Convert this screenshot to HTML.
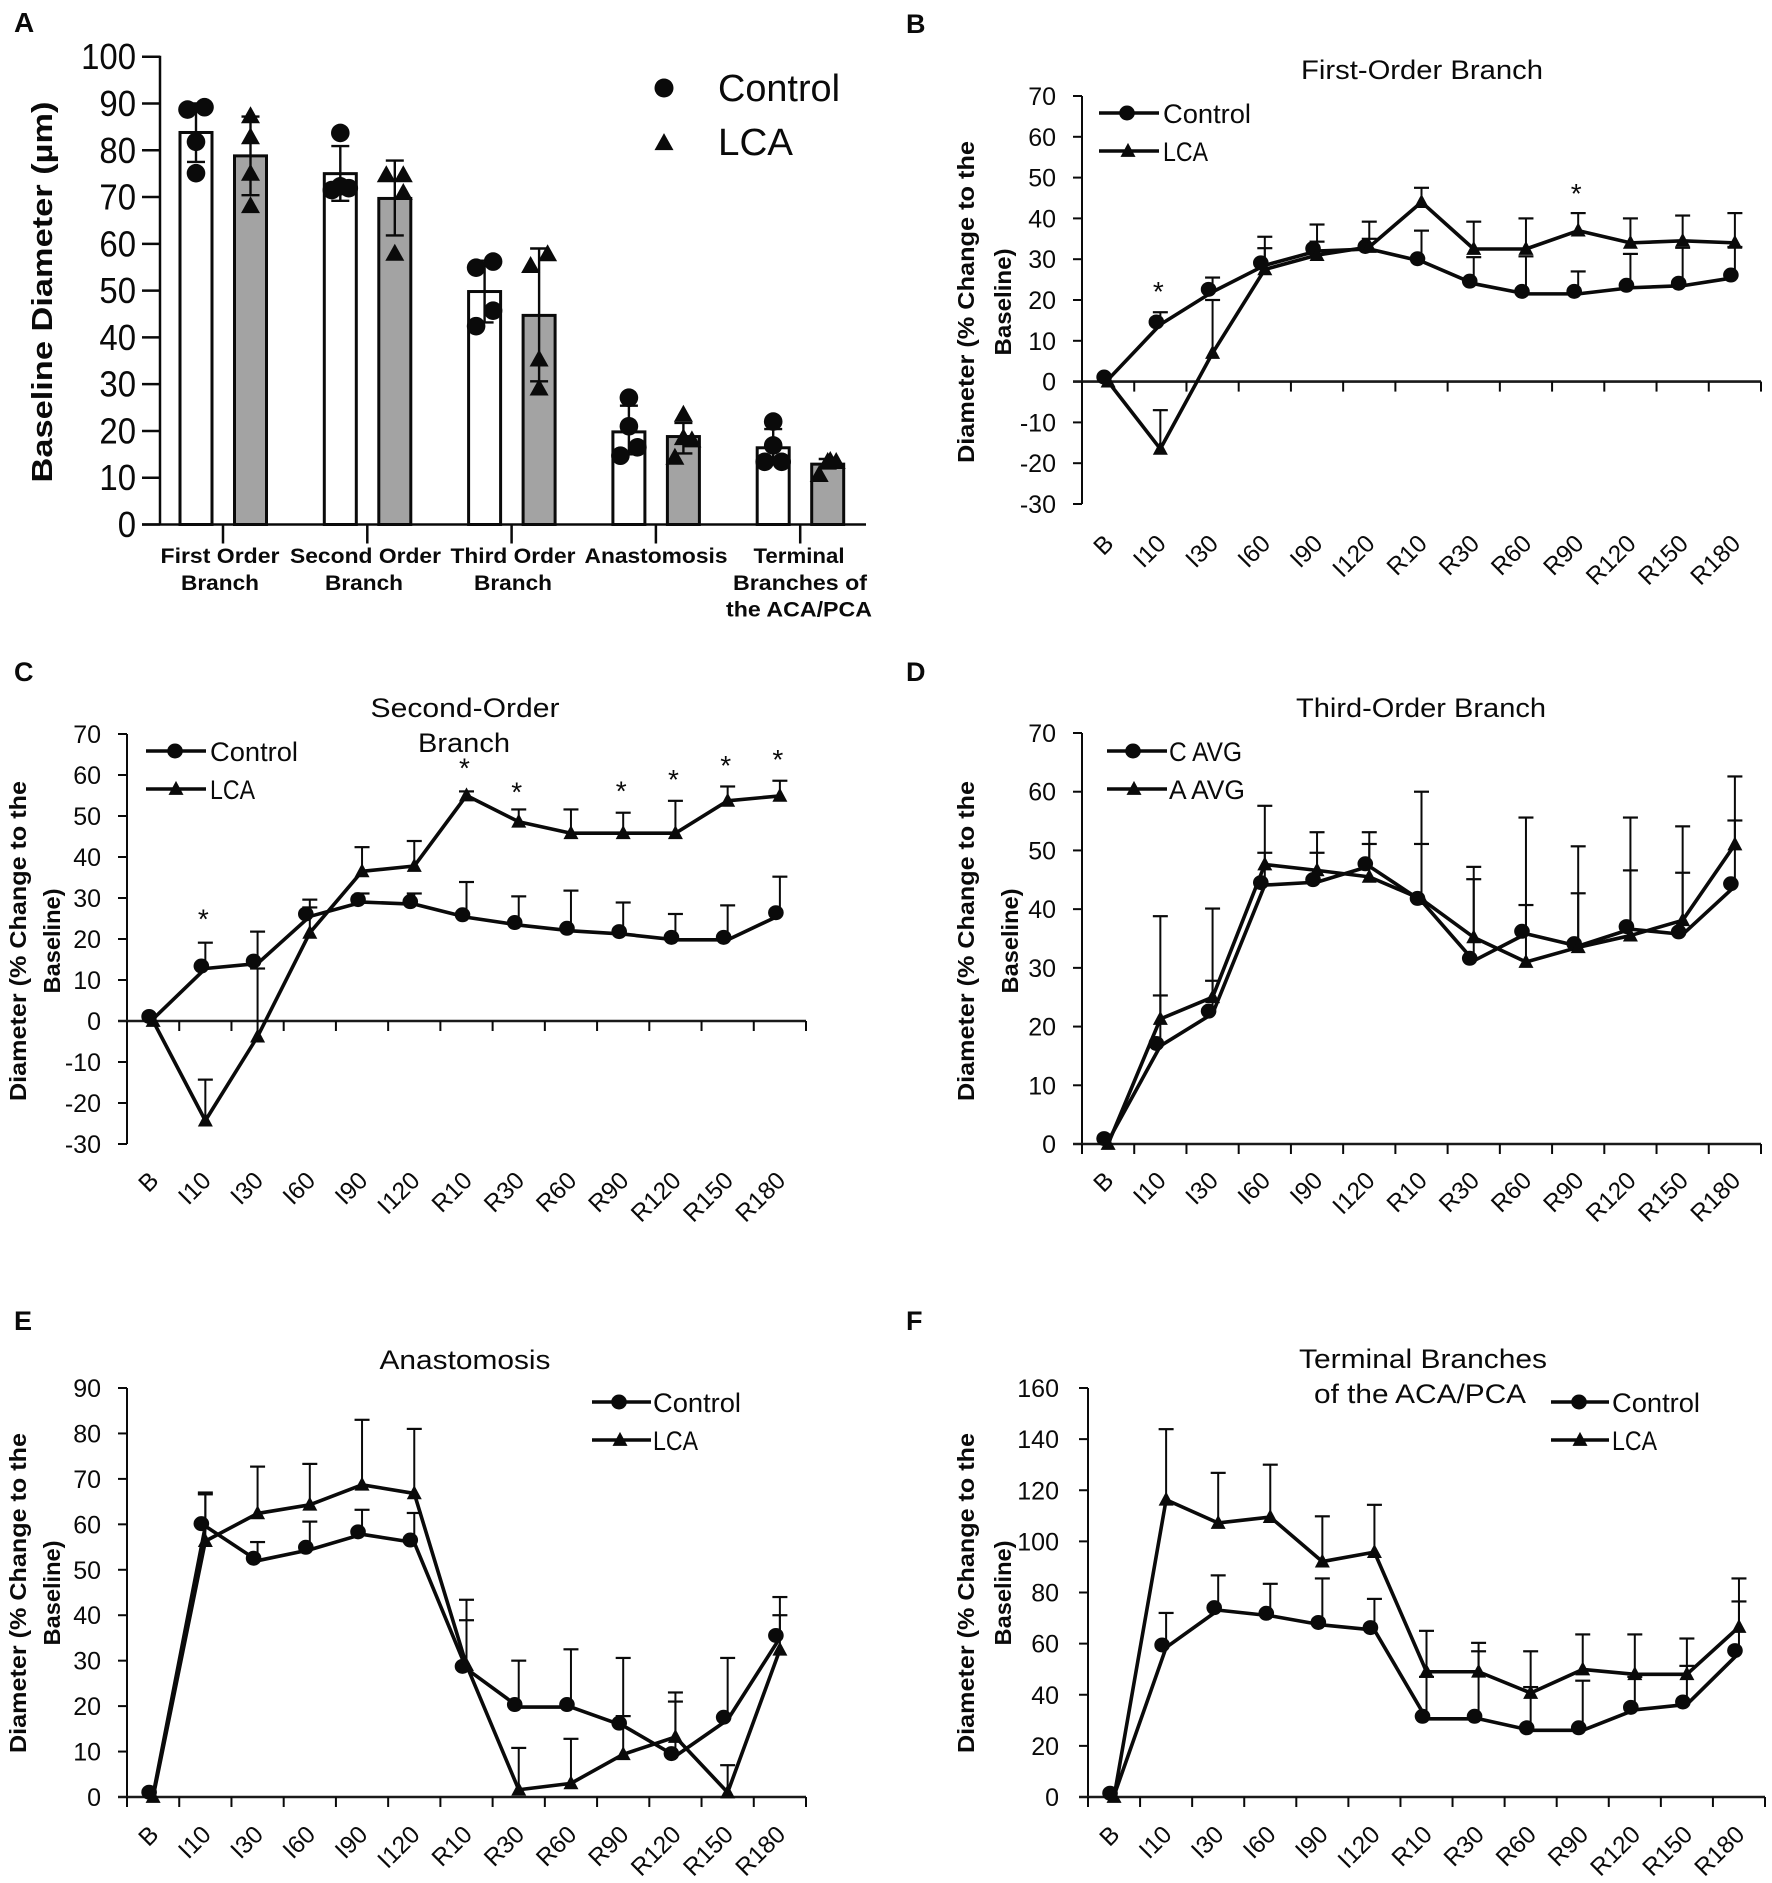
<!DOCTYPE html>
<html lang="en">
<head>
<meta charset="utf-8">
<title>Baseline diameter and percent change charts</title>
<style>
html,body{margin:0;padding:0;background:#fff;}
svg{display:block;}
text{font-family:"Liberation Sans",sans-serif;fill:#0a0a0a;}
</style>
</head>
<body>
<svg id="figure" xmlns="http://www.w3.org/2000/svg" width="1772" height="1883" viewBox="0 0 1772 1883"></svg>
<script>
// ---- shared categories ----
const timeCategories = ['B','I10','I30','I60','I90','I120','R10','R30','R60','R90','R120','R150','R180'];

// ---- panel A data ----
const aTicks = [0,10,20,30,40,50,60,70,80,90,100];
const aControlMeans = [83.8,75,49.8,19.8,16.4];
const aLcaMeans = [78.8,69.7,44.7,18.8,12.9];
const aControlHigh = [90,80.9,56.4,25.4,20.4];
const aControlLow = [77.5,69.2,43.2,15,13];
const aLcaHigh = [87.2,77.8,59,21.7,14];
const aLcaLow = [70.4,61.8,30.6,15.2,12];
const aControlPoints = [[88.7,89.2,81.8,75.1],[83.7,71.5,71.9,72.3],[54.9,56.2,45.7,42.4],[27.1,21,16.5,14.7],[22,16.9,13.4,13.4]];
const aLcaPoints = [[87.3,82.8,75,68.1],[74.7,74.7,70.9,57.9],[55.3,57.8,35.3,29.1],[23.5,18,18.5,14.3],[10.6,13.4,13.4,13.6]];
const aControlJitter = [[-1,1,0,0],[0,-1,1,0],[-1,1,1,-1],[0,0,1,-1],[0,0,-1,1]];
const aLcaJitter = [[0,0,0,0],[-1,1,1,0],[-1,1,0,0],[0,1,0,-1],[-1,0,1,0.3]];

// ---- panel B data ----
const bTicks = [-30,-20,-10,0,10,20,30,40,50,60,70];
const bControl = [0.5,14,22,28.5,32,32.5,29.5,24,21.5,21.5,23,23.5,25.5];
const bControlErr = [null,17,25.5,32.7,34.3,35,37,30.5,30.7,27,31.3,32.8,33];
const bLca = [0,-16.5,7,27.5,31,33,44,32.5,32.5,37,34,34.5,34];
const bLcaErr = [null,-7,20,35.5,38.5,39.2,47.5,39.2,40,41.3,40,40.7,41.3];
const bStarIdx = [1,9];
const bStarVal = [23.4,47.5];

// ---- panel C data ----
const cTicks = [-30,-20,-10,0,10,20,30,40,50,60,70];
const cControl = [0.5,12.8,14,25.5,29,28.5,25.3,23.4,22,21.2,19.8,19.8,25.8];
const cControlErr = [null,19.1,21.8,27.7,31.1,31.1,33.9,30.4,31.8,28.9,26.1,28.2,35.2];
const cLca = [0,-24.3,-3.8,21.5,36.5,37.8,55,48.6,45.8,45.8,45.8,53.7,54.9];
const cLcaErr = [null,-14.3,12.8,29.6,42.4,43.9,56,51.6,51.6,50.8,53.7,57.2,58.6];
const cStarIdx = [1,6,7,9,10,11,12];
const cStarVal = [26.2,63.1,57.2,57.5,60.2,63.7,65.1];

// ---- panel D data ----
const dTicks = [0,10,20,30,40,50,60,70];
const dControl = [0.5,16.7,22.2,44.1,44.6,47.3,41.4,31.2,35.8,33.7,36.6,35.7,43.9];
const dControlErr = [null,25.3,27.8,49.6,49.6,51.1,51.1,45.1,40.7,42.7,46.6,46.2,55.1];
const dLca = [0,21.3,25,47.6,46.6,45.5,41.7,35.2,31,33.5,35.5,38.1,51];
const dLcaErr = [null,38.8,40.1,57.6,53.1,53.1,60,47.2,55.6,50.7,55.6,54.1,62.6];

// ---- panel E data ----
const eTicks = [0,10,20,30,40,50,60,70,80,90];
const eControl = [0.5,59.6,52,54.4,57.8,56,28.2,19.8,19.8,15.7,9,17,35];
const eControlErr = [null,66.6,56.1,60.6,63.2,62.5,38.9,30,32.5,30.6,21,30.6,44];
const eLca = [0,56.3,62.4,64.3,68.7,66.8,29,1.6,3,9.4,13.2,1,32.4];
const eLcaErr = [null,67,72.7,73.3,83,81,43.4,10.8,12.8,17.8,23,7,40];

// ---- panel F data ----
const fTicks = [0,20,40,60,80,100,120,140,160];
const fControl = [0.5,58.5,73.1,70.9,67.3,65.3,30.6,30.6,26.1,26.1,34.1,36.2,56.3];
const fControlErr = [null,72,86.7,83.4,85.5,77.5,47,57,43,45.5,47,51.3,76.5];
const fLca = [0,116.3,107.2,109.5,92.1,95.8,49,49,40.7,49.9,48,48,66.5];
const fLcaErr = [null,143.9,126.8,130,109.8,114.3,65,60.3,57,63.6,63.6,62,85.5];

const svgNS = 'http://www.w3.org/2000/svg';
const root = document.getElementById('figure');

function mk(tag, attrs, parent, name) {
  const el = document.createElementNS(svgNS, tag);
  for (const k in attrs) el.setAttribute(k, attrs[k]);
  
  
  (parent || root).appendChild(el);
  return el;
}
function group(parent, name) {
  return mk('g', {}, parent, name);
}
function line(p, x1, y1, x2, y2, w, name, color) {
  return mk('line', {x1:x1, y1:y1, x2:x2, y2:y2, stroke:color || '#0a0a0a', 'stroke-width':w}, p, name);
}
function txt(p, str, x, y, size, opt, name) {
  const o = opt || {};
  const a = {x:0, y:0, 'font-size':size, 'text-anchor':o.anchor || 'start'};
  if (o.bold) a['font-weight'] = 'bold';
  if (o.len) { a.textLength = o.len; a.lengthAdjust = 'spacingAndGlyphs'; }
  a.transform = 'translate(' + x + ' ' + y + ')' + (o.rot ? ' rotate(' + o.rot + ')' : '');
  const t = mk('text', a, p, name);
  t.textContent = str;
  return t;
}
function circleMark(p, x, y, rx, ry, name) {
  return mk('ellipse', {cx:x, cy:y, rx:rx, ry:ry, fill:'#0a0a0a'}, p, name);
}
function triMark(p, x, y, w, h, name) {
  const pts = [x, y - h * 0.58, x + w / 2, y + h * 0.42, x - w / 2, y + h * 0.42].join(' ');
  return mk('polygon', {points:pts, fill:'#0a0a0a'}, p, name);
}

// ---- panel A ----
function drawBarPanel() {
  const g = group(root, 'panel-a');
  const left = 160, right = 866, y0 = 524.5, y100 = 56.7;
  const catStart = 223, catStep = 144.3;
  const Y = v => y0 - (v / 100) * (y0 - y100);
  const X = i => catStart + i * catStep;
  const cats = [
    [['First  Order',220,119],['Branch',220,78]],
    [['Second  Order',365.5,151],['Branch',364,78]],
    [['Third Order',513,125],['Branch',513,78]],
    [['Anastomosis',656,143]],
    [['Terminal',799,91],['Branches  of',800,134],['the ACA/PCA',799,146]]
  ];
  txt(g, 'A', 14, 32, 28, {bold:true}, 'panel-a-letter');
  aControlMeans.forEach((v, i) => {
    const cx = X(i) - 27, gx = X(i) + 27.5;
    mk('rect', {x:cx - 16, y:Y(v), width:32, height:y0 - Y(v), fill:'#fff', stroke:'#0a0a0a', 'stroke-width':3}, g, 'bar-control-' + i);
    mk('rect', {x:gx - 16, y:Y(aLcaMeans[i]), width:32, height:y0 - Y(aLcaMeans[i]), fill:'#a3a3a3', stroke:'#0a0a0a', 'stroke-width':3}, g, 'bar-lca-' + i);
    [[cx, aControlHigh[i], aControlLow[i], 'control'], [gx, aLcaHigh[i], aLcaLow[i], 'lca']].forEach(e => {
      line(g, e[0], Y(e[1]), e[0], Y(e[2]), 2.4, 'error-stem-' + e[3] + '-' + i);
      line(g, e[0] - 9, Y(e[1]), e[0] + 9, Y(e[1]), 2.4, 'error-cap-high-' + e[3] + '-' + i);
      line(g, e[0] - 9, Y(e[2]), e[0] + 9, Y(e[2]), 2.4, 'error-cap-low-' + e[3] + '-' + i);
    });
    aControlPoints[i].forEach((p, j) => {
      circleMark(g, cx + aControlJitter[i][j] * 8.5, Y(p), 9.3, 9.3, 'point-control-' + i + '-' + j);
    });
    aLcaPoints[i].forEach((p, j) => {
      triMark(g, gx + aLcaJitter[i][j] * 8.5, Y(p), 19, 17, 'point-lca-' + i + '-' + j);
    });
  });
  line(g, left, y100 - 1, left, y0, 2.5, 'y-axis');
  line(g, 142, y0, right, y0, 2.5, 'x-axis');
  aTicks.forEach(t => {
    line(g, 142, Y(t), left, Y(t), 2.5, 'y-tick-' + t);
    txt(g, String(t), 136, Y(t) + 12.5, 36, {anchor:'end', len:String(t).length * 18.3}, 'y-tick-label-' + t);
  });
  cats.forEach((lines, i) => {
    line(g, X(i), y0, X(i), y0 + 19, 2.5, 'x-tick-' + i);
    lines.forEach((l, j) => {
      txt(g, l[0], l[1], 563 + j * 26.8, 21, {bold:true, anchor:'middle', len:l[2]}, 'x-category-label-' + i + '-' + j);
    });
  });
  txt(g, 'Baseline Diameter (µm)', 52, 292, 29, {bold:true, anchor:'middle', rot:-90, len:381}, 'y-axis-title');
  circleMark(g, 664, 88, 9.5, 9.5, 'legend-marker-control');
  txt(g, 'Control', 718, 101, 38, {len:122}, 'legend-label-control');
  triMark(g, 664, 143, 19, 17, 'legend-marker-lca');
  txt(g, 'LCA', 718, 155, 38, {len:75}, 'legend-label-lca');
}

// ---- line panels ----
function drawLinePanel(cfg) {
  const g = group(root, 'panel-' + cfg.id);
  const ticks = cfg.ticks;
  const lo = ticks[0], hi = ticks[ticks.length - 1];
  const Y = v => cfg.yBottom - (v - lo) / (hi - lo) * (cfg.yBottom - cfg.yTop);
  const bw = (cfg.xEnd - cfg.x0) / timeCategories.length;
  const X = i => cfg.x0 + (i + 0.5) * bw;

  txt(g, cfg.letter, cfg.letterX, cfg.letterY, 27, {bold:true}, 'panel-letter');
  cfg.title.forEach((t, i) => {
    txt(g, t[0], t[1], t[2], 27, {anchor:'middle', len:t[3]}, 'chart-title-line-' + i);
  });

  line(g, cfg.x0, cfg.yTop, cfg.x0, cfg.yBottom, 2, 'y-axis');
  ticks.forEach(t => {
    line(g, cfg.x0 - 9, Y(t), cfg.x0, Y(t), 2, 'y-tick-' + t);
    txt(g, String(t), cfg.x0 - cfg.labelGap, Y(t) + 9, 25, {anchor:'end'}, 'y-tick-label-' + t);
  });
  line(g, cfg.x0 - 9, Y(0), cfg.xEnd, Y(0), 2.6, 'x-axis', '#1a1a1a');
  for (let i = 0; i <= timeCategories.length; i++) {
    const tx = cfg.x0 + i * bw;
    line(g, tx, Y(0), tx, Y(0) + 10, 2, 'x-tick-' + i);
  }
  timeCategories.forEach((c, i) => {
    txt(g, c, X(i) + 7, cfg.yBottom + cfg.catGap, 24.5, {anchor:'end', rot:-45}, 'x-tick-label-' + c);
  });

  [['control', cfg.controlErr, cfg.control], ['lca', cfg.lcaErr, cfg.lca]].forEach(s => {
    s[1].forEach((e, i) => {
      if (e === null) return;
      line(g, X(i), Y(s[2][i]), X(i), Y(e), 2, 'error-stem-' + s[0] + '-' + timeCategories[i]);
      line(g, X(i) - 7.5, Y(e), X(i) + 7.5, Y(e), 2.2, 'error-cap-' + s[0] + '-' + timeCategories[i]);
    });
  });

  const path = arr => arr.map((v, i) => X(i) + ',' + Y(v)).join(' ');
  mk('polyline', {points:path(cfg.control), fill:'none', stroke:'#0a0a0a', 'stroke-width':3.6, 'stroke-linejoin':'round'}, g, 'series-line-control');
  mk('polyline', {points:path(cfg.lca), fill:'none', stroke:'#0a0a0a', 'stroke-width':3.6, 'stroke-linejoin':'round'}, g, 'series-line-lca');
  cfg.control.forEach((v, i) => {
    circleMark(g, X(i) - 4, Y(v) - 2.5, 7.8, 7.5, 'point-control-' + timeCategories[i]);
  });
  cfg.lca.forEach((v, i) => {
    triMark(g, X(i), Y(v), 15, 14, 'point-lca-' + timeCategories[i]);
  });

  (cfg.starIdx || []).forEach((idx, k) => {
    txt(g, '*', X(idx) - 2, Y(cfg.starVal[k]) + 15, 28, {anchor:'middle'}, 'significance-star-' + timeCategories[idx]);
  });

  const yt = cfg.yTitle;
  txt(g, 'Diameter  (% Change to the', yt[0], yt[2], 23, {bold:true, anchor:'middle', rot:-90, len:yt[3]}, 'y-axis-title-line-1');
  txt(g, 'Baseline)', yt[1], yt[4], 23, {bold:true, anchor:'middle', rot:-90, len:yt[5]}, 'y-axis-title-line-2');

  const lg = cfg.legend;
  line(g, lg.x1, lg.y1, lg.x2, lg.y1, 3.6, 'legend-line-control');
  circleMark(g, lg.mx, lg.y1, 7.8, 7.5, 'legend-marker-control');
  txt(g, lg.labels[0], lg.tx, lg.y1 + 10, 27, {len:lg.lens[0]}, 'legend-label-control');
  line(g, lg.x1, lg.y2, lg.x2, lg.y2, 3.6, 'legend-line-lca');
  triMark(g, lg.mx + 1, lg.y2, 15, 14, 'legend-marker-lca');
  txt(g, lg.labels[1], lg.tx, lg.y2 + 10, 27, {len:lg.lens[1]}, 'legend-label-lca');
}

drawBarPanel();

drawLinePanel({id:'b', letter:'B', letterX:906, letterY:33, x0:1082, xEnd:1761, yTop:96, yBottom:504, catGap:41,
  ticks:bTicks, control:bControl, controlErr:bControlErr, lca:bLca, lcaErr:bLcaErr, starIdx:bStarIdx, starVal:bStarVal, labelGap:26,
  title:[['First-Order Branch',1422,79,242]],
  yTitle:[974,1011,302,322,302,107],
  legend:{x1:1099,x2:1159,mx:1127,y1:113,y2:151,tx:1163,labels:['Control','LCA'],lens:[88,45]}});

drawLinePanel({id:'c', letter:'C', letterX:14, letterY:681, x0:127, xEnd:806, yTop:734, yBottom:1144, catGap:38,
  ticks:cTicks, control:cControl, controlErr:cControlErr, lca:cLca, lcaErr:cLcaErr, starIdx:cStarIdx, starVal:cStarVal, labelGap:26,
  title:[['Second-Order',465,717,189],['Branch',464,752,92]],
  yTitle:[26,60,941,320,941,105],
  legend:{x1:146,x2:206,mx:175,y1:751,y2:789,tx:210,labels:['Control','LCA'],lens:[88,45]}});

drawLinePanel({id:'d', letter:'D', letterX:906, letterY:681, x0:1082, xEnd:1761, yTop:733, yBottom:1144, catGap:38,
  ticks:dTicks, control:dControl, controlErr:dControlErr, lca:dLca, lcaErr:dLcaErr, labelGap:26,
  title:[['Third-Order Branch',1421,717,250]],
  yTitle:[974,1018,941,320,941,105],
  legend:{x1:1107,x2:1167,mx:1133,y1:751,y2:789,tx:1169,labels:['C AVG','A AVG'],lens:[73,76]}});

drawLinePanel({id:'e', letter:'E', letterX:14, letterY:1330, x0:127, xEnd:806, yTop:1388, yBottom:1797, catGap:39,
  ticks:eTicks, control:eControl, controlErr:eControlErr, lca:eLca, lcaErr:eLcaErr, labelGap:26,
  title:[['Anastomosis',465,1369,171]],
  yTitle:[26,60,1593,320,1593,105],
  legend:{x1:592,x2:651,mx:619,y1:1402,y2:1440,tx:653,labels:['Control','LCA'],lens:[88,45]}});

drawLinePanel({id:'f', letter:'F', letterX:906, letterY:1330, x0:1088, xEnd:1765, yTop:1388, yBottom:1797, catGap:39,
  ticks:fTicks, control:fControl, controlErr:fControlErr, lca:fLca, lcaErr:fLcaErr, labelGap:29,
  title:[['Terminal Branches',1423,1368,248],['of the ACA/PCA',1420,1403,212]],
  yTitle:[974,1011,1593,320,1593,105],
  legend:{x1:1551,x2:1609,mx:1579,y1:1402,y2:1440,tx:1612,labels:['Control','LCA'],lens:[88,45]}});
</script>
</body>
</html>
